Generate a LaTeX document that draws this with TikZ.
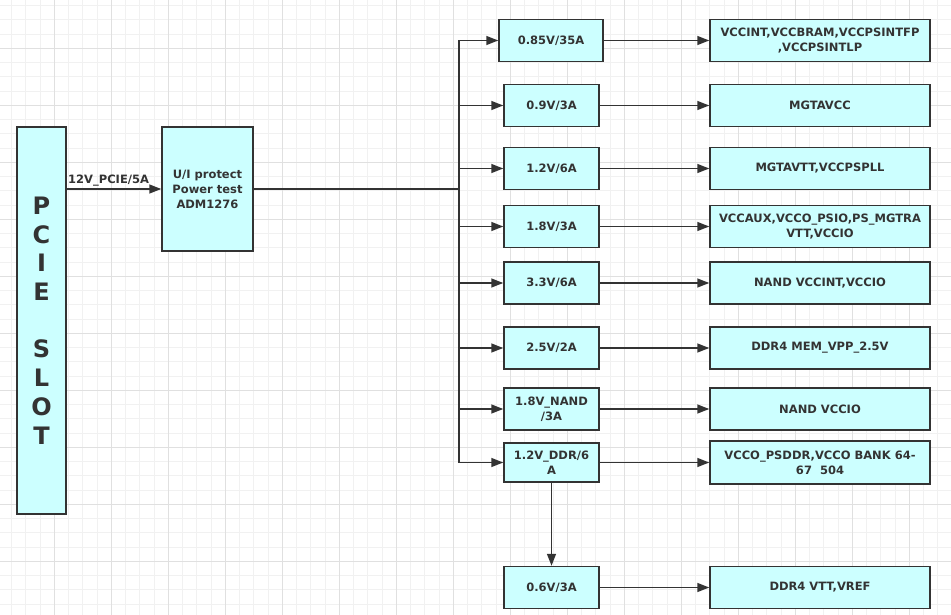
\documentclass[tikz,border=0pt]{standalone}
\usepackage{fontspec}
\setmainfont{DejaVu Sans}
\usepackage{tikz}
\usetikzlibrary{arrows.meta,positioning}
\definecolor{boxcyan}{RGB}{204,255,255}
\definecolor{edgegray}{RGB}{51,51,51}
\definecolor{griddark}{RGB}{224,224,224}
\definecolor{gridlight}{RGB}{241,241,241}

\begin{document}
\begin{tikzpicture}[x=1pt,y=-1pt,
    font=\fontsize{11.5}{15}\selectfont\bfseries,
    finegrid/.style={draw=gridlight,line width=0.9pt},
    coarsegrid/.style={draw=griddark,line width=1pt},
    blk/.style={draw=edgegray,fill=boxcyan,line width=1.5pt,text=edgegray,
      align=center,inner sep=2pt,minimum height=42pt},
    rail/.style={blk,minimum width=95pt},
    load/.style={blk,minimum width=220pt},
    wire/.style={draw=edgegray,line width=1.5pt},
    arr/.style={wire,-{Triangle[length=12pt,width=9pt]}}]
  \useasboundingbox (0,0) rectangle (951,615);
  % Background grid
  \foreach \i in {1,...,67}{
    \draw[finegrid] ({-2.7+14.25*\i},0) -- ++(0,615);
  }
  \foreach \j in {1,...,43}{
    \draw[finegrid] (0,{-8.7+14.25*\j}) -- ++(951,0);
  }
  \foreach \i in {1,...,16}{
    \draw[coarsegrid] ({-2.7+57*\i},0) -- ++(0,615);
  }
  \foreach \j in {1,...,10}{
    \draw[coarsegrid] (0,{-8.7+57*\j}) -- ++(951,0);
  }
  % Input side
  \node[blk,minimum width=49pt,minimum height=387pt,
    font=\fontsize{24}{28.7}\selectfont\bfseries] (pcie) at (41.5,320.5)
    {P\\C\\I\\E\\[28.7pt]S\\L\\O\\T};
  \node[blk,minimum width=91pt,minimum height=124pt] (prot) at (207.5,189)
    {U/I protect\\Power test\\ADM1276};
  \draw[arr] (pcie.east |- prot.west) -- (prot.west);
  \node[anchor=base west,inner sep=0,text=edgegray] (vin) at (68,184) {12V\_PCIE/5A};
  % Rails
  \node[rail,minimum width=104pt] (r1) at (551,40.5) {0.85V/35A};
  \node[rail] (r2) at (551.5,105.5) {0.9V/3A};
  \node[rail] (r3) at (551.5,168.5) {1.2V/6A};
  \node[rail] (r4) at (551.5,226.5) {1.8V/3A};
  \node[rail] (r5) at (551.5,283) {3.3V/6A};
  \node[rail] (r6) at (551.5,348) {2.5V/2A};
  \node[rail] (r7) at (551.5,409) {1.8V\_NAND\\/3A};
  \node[rail,minimum height=39pt] (r8) at (551.5,462.5) {1.2V\_DDR/6\\A};
  \node[rail] (r9) at (551.5,587.5) {0.6V/3A};
  % Loads
  \node[load] (l1) at (820,40.5) {VCCINT,VCCBRAM,VCCPSINTFP\\,VCCPSINTLP};
  \node[load] (l2) at (820,105.5) {MGTAVCC};
  \node[load] (l3) at (820,168.5) {MGTAVTT,VCCPSPLL};
  \node[load] (l4) at (820,226.5) {VCCAUX,VCCO\_PSIO,PS\_MGTRA\\VTT,VCCIO};
  \node[load] (l5) at (820,283) {NAND VCCINT,VCCIO};
  \node[load] (l6) at (820,348) {DDR4 MEM\_VPP\_2.5V};
  \node[load] (l7) at (820,409) {NAND VCCIO};
  \node[load,minimum height=43pt] (l8) at (820,462.5) {VCCO\_PSDDR,VCCO BANK 64-\\67\ \ 504};
  \node[load] (l9) at (820,587.5) {DDR4 VTT,VREF};
  % Distribution
  \coordinate (join) at (336,189);
  \coordinate (bus) at (459,189);
  \draw[wire] (prot.east) -- (bus);
  \draw[wire,line width=2.5pt] (join) -- (bus);
  \foreach \k in {1,...,8}{
    \draw[arr] (bus) |- (r\k.west);
  }
  \foreach \k in {1,...,9}{
    \draw[arr] (r\k.east) -- (l\k.west);
  }
  \draw[arr] (r8.south) -- (r9.north);
\end{tikzpicture}
\end{document}
